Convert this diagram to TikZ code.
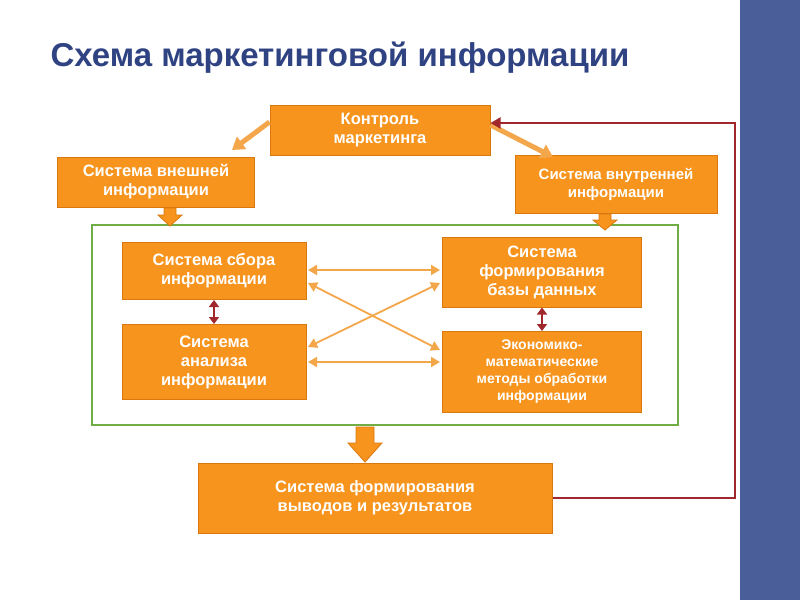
\documentclass[tikz,border=0pt]{standalone}
\usepackage{fontspec}
\setmainfont{Liberation Sans}
\usetikzlibrary{arrows.meta}
\definecolor{org}{HTML}{F7941D}
\definecolor{orgd}{HTML}{D9780F}
\definecolor{ttl}{HTML}{2F4282}
\definecolor{strip}{HTML}{4A5E9A}
\definecolor{grn}{HTML}{70AD47}
\definecolor{dred}{HTML}{A0282D}
\definecolor{larr}{HTML}{F4A64A}
\tikzset{
 box/.style={draw=orgd,line width=1pt,fill=org,text=white,font=\bfseries\fontsize{16.5}{19}\selectfont,align=center,inner sep=0pt},
 blk/.style={draw=orgd,fill=org,line width=0.8pt},
 dbl/.style={draw=dred,line width=2pt,{Triangle[length=7pt,width=10pt]}-{Triangle[length=7pt,width=10pt]}},
 lin/.style={draw=larr,line width=1.8pt,{Triangle[length=9pt,width=10pt]}-{Triangle[length=9pt,width=10pt]}}
}
\begin{document}
\begin{tikzpicture}[x=1pt,y=-1pt]
\useasboundingbox (0,0) rectangle (800,600);
\fill[white] (0,0) rectangle (800,600);
\fill[strip] (740,0) rectangle (800,600);
\node[anchor=west,text=ttl,font=\bfseries\fontsize{33}{36}\selectfont] (title) at (47,58) {Схема маркетинговой информации};
\draw[grn,line width=1.5pt] (92,225) rectangle (678,425);
\node[box,minimum width=220,minimum height=50] (k) at (380,130) {Контроль\\маркетинга};
\node[box,minimum width=197,minimum height=50] (ext) at (156,182) {Система внешней\\информации};
\node[box,minimum width=202,minimum height=58,font=\bfseries\fontsize{15}{18}\selectfont] (int) at (616,184) {Система внутренней\\информации};
\node[box,minimum width=184,minimum height=57] (sb) at (214,271) {Система сбора\\информации};
\node[box,minimum width=184,minimum height=75] (an) at (214,362) {Система\\анализа\\информации};
\node[box,minimum width=199,minimum height=70] (db) at (542,272) {Система\\формирования\\базы данных};
\node[box,minimum width=199,minimum height=81,font=\bfseries\fontsize{14}{17}\selectfont] (ec) at (542,372) {Экономико-\\математические\\методы обработки\\информации};
\node[box,minimum width=354,minimum height=70] (out) at (375,498) {Система формирования\\выводов и результатов};
% block arrows
\draw[blk] (164,208) -- (176,208) -- (176,215) -- (182,215) -- (170,226) -- (158,215) -- (164,215) -- cycle;
\draw[blk] (599,214) -- (611,214) -- (611,220) -- (617,220) -- (605,230) -- (593,220) -- (599,220) -- cycle;
\draw[blk] (356,427) -- (374,427) -- (374,443) -- (382,443) -- (365,462) -- (348,443) -- (356,443) -- cycle;
\draw[larr,line width=5pt,-{Triangle[length=12pt,width=15pt]}] (k.west)++(0,-8) -- (232,150);
\draw[larr,line width=5pt,-{Triangle[length=12pt,width=15pt]}] (k.east)++(0,-5) -- (553,157);
\draw[dbl] (sb.south) -- (an.north);
\draw[dbl] (db.south) -- (ec.north);
\draw[lin] (308,270) -- (440,270);
\draw[lin] (308,362) -- (440,362);
\draw[lin] (308,283) -- (440,350);
\draw[lin] (308,347) -- (440,283);
\coordinate (c1) at (735,498);
\coordinate (c2) at (735,123);
\draw[dred,line width=2pt,-{Triangle[length=10pt,width=11pt]}] (out.east) -- (c1) -- (c2) -- (k.east|-c2);
\end{tikzpicture}
\end{document}
